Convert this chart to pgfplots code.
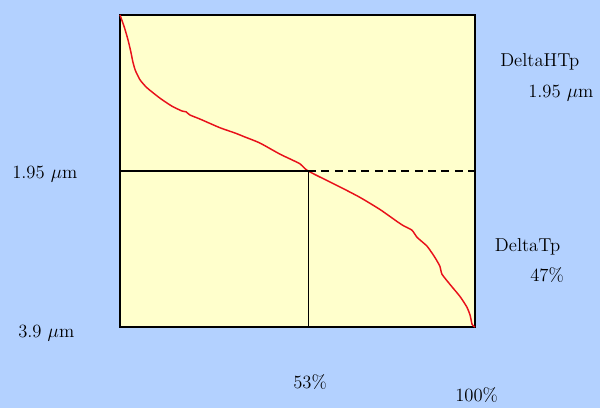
\documentclass[border=0pt]{standalone}
\usepackage{pgfplots}
\pgfplotsset{compat=1.18}
\definecolor{bgblue}{HTML}{B3D1FF}
\definecolor{plotyellow}{HTML}{FFFFCC}
\definecolor{curvered}{HTML}{E8101A}
\begin{document}
\begin{tikzpicture}
\fill[bgblue] (0,0) rectangle (450pt,306pt);
\useasboundingbox (0,0) rectangle (450pt,306pt);
\begin{axis}[
  at={(90pt,60.75pt)}, anchor=south west,
  scale only axis, width=266.25pt, height=234pt,
  xmin=0, xmax=100, ymin=0, ymax=3.9, y dir=reverse,
  ticks=none,
  axis background/.style={fill=plotyellow},
  axis line style={black, line width=1.1pt},
  clip=false,
]
\addplot[curvered, line width=1.1pt, smooth, tension=0.35] coordinates {
(0,0) (1.2,0.15) (2.25,0.31) (3.0,0.45) (3.6,0.58) (4.3,0.69) (5.63,0.81) (7.6,0.91) (11.27,1.04)
(14.65,1.14) (17.46,1.2) (18.6,1.21) (19.7,1.25) (22.5,1.3) (28.2,1.41)
(32.4,1.475) (35.2,1.525) (39.4,1.6) (45.1,1.74) (50.7,1.86) (53,1.95)
(62,2.15) (67.6,2.28) (73.2,2.43) (78,2.58) (79.7,2.63) (82.25,2.69)
(83.7,2.78) (86.5,2.89) (88.7,3.03) (90.1,3.14) (90.7,3.24) (93,3.37)
(95.8,3.52) (97.7,3.65) (98.6,3.75) (99.2,3.87) (100,3.9)
};
\addplot[black, line width=0.9pt] coordinates {(0,1.95) (53,1.95)};
\addplot[black, line width=0.9pt, dash pattern=on 6pt off 4pt] coordinates {(53,1.95) (100,1.95)};
\addplot[black, line width=0.9pt] coordinates {(53,1.95) (53,3.9)};
\end{axis}
\begin{scope}[every node/.style={font=\fontsize{14}{17}\selectfont, inner sep=0pt}]
\node[anchor=west] at (9pt,175.5pt) {1.95 $\mu$m};
\node[anchor=west] at (375pt,259.5pt) {DeltaHTp};
\node[anchor=west] at (396pt,236.25pt) {1.95 $\mu$m};
\node[anchor=west] at (371pt,120.75pt) {DeltaTp};
\node[anchor=west] at (397.5pt,99.75pt) {47\%};
\node[anchor=west] at (13.5pt,56.25pt) {3.9 $\mu$m};
\node[anchor=west] at (219.75pt,19.5pt) {53\%};
\node[anchor=west] at (341.25pt,9.75pt) {100\%};
\end{scope}
\end{tikzpicture}
\end{document}
